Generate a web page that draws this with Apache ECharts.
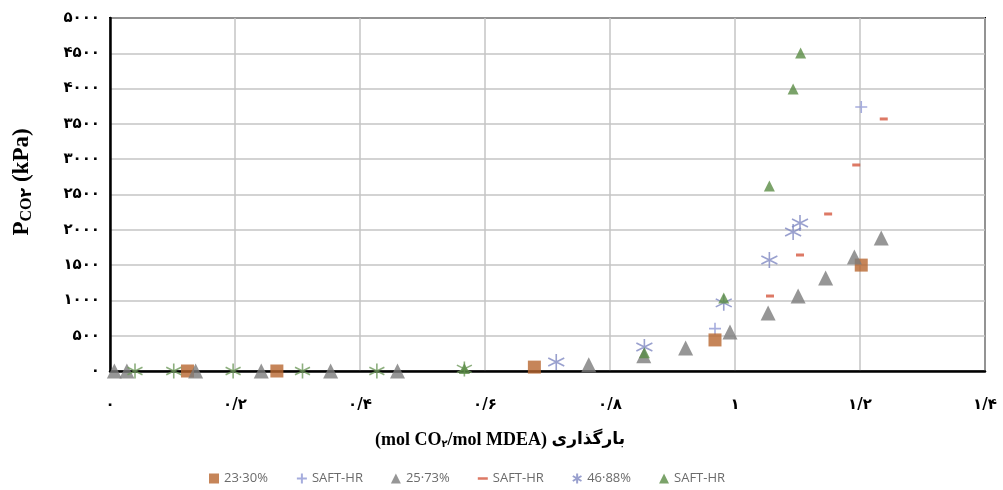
<!DOCTYPE html>
<html>
<head>
<meta charset="utf-8">
<script src="https://cdn.jsdelivr.net/npm/echarts@6/dist/echarts.min.js"></script>
<style>
html,body{margin:0;padding:0;background:#fff;}
#chart{width:1003px;height:490px;}
</style>
</head>
<body>
<div id="chart"></div>
<script>
// ---- data ----
const xTickLabels = ['۰','۰/۲','۰/۴','۰/۶','۰/۸','۱','۱/۲','۱/۴'];
const yTickLabels = ['۰','۵۰۰','۱۰۰۰','۱۵۰۰','۲۰۰۰','۲۵۰۰','۳۰۰۰','۳۵۰۰','۴۰۰۰','۴۵۰۰','۵۰۰۰'];

const legendNames = ['23·30%','SAFT-HR#1','25·73%','SAFT-HR#2','46·88%','SAFT-HR#3'];

const exp2330 = [[0.124,0],[0.267,0],[0.679,55],[0.968,440],[1.202,1500]];
const saft2330 = [[0.968,600],[1.202,3740]];
const exp2573 = [[0.007,0],[0.027,0],[0.137,0],[0.242,0],[0.353,0],[0.46,0],[0.766,90],
                 [0.854,215],[0.921,326],[0.992,552],[1.053,821],[1.101,1062],[1.145,1317],
                 [1.191,1615],[1.234,1884]];
const saft2573 = [[1.056,1062],[1.104,1643],[1.149,2224],[1.194,2918],[1.238,3570]];
const exp4688 = [[0.714,127],[0.855,340],[0.982,965],[1.055,1572],[1.093,1969],[1.104,2096]];
const exp4688Low = [[0.04,0],[0.102,0],[0.197,0],[0.308,0],[0.427,0],[0.567,30]];
const saft4688 = [[0.567,35],[0.855,260],[0.982,1034],[1.055,2621],[1.093,3994],[1.105,4504]];

// ---- styles ----
const cOrange = '#b8672f', cGray = '#7c7c7c', cLav = '#9098d4', cRed = '#d4573f',
      cAst = '#7f88c2', cGreen = '#5a8c45';
const plusPath = 'path://M5,0L5,10M0,5L10,5';
const astPath = 'path://M5,0L5,10M0.67,2.5L9.33,7.5M0.67,7.5L9.33,2.5';
const dashPath = 'path://M0,4L10,4L10,6.5L0,6.5Z';

const chart = echarts.init(document.getElementById('chart'), null, {renderer:'canvas'});
const digitFont = '"DejaVu Sans", sans-serif';

chart.setOption({
  animation: false,
  grid: {left:110, right:18, top:18, bottom:119, show:true, borderColor:'#000', borderWidth:2},
  xAxis: {
    type:'value', min:0, max:1.4, interval:0.2,
    axisLine:{show:true, lineStyle:{color:'#000', width:2.5}},
    axisTick:{show:false},
    splitLine:{show:true, lineStyle:{color:'#c4c4c4', width:1.5}},
    axisLabel:{margin:27, color:'#000', fontWeight:'bold', fontSize:15, fontFamily:digitFont,
      formatter:(v)=>xTickLabels[Math.round(v/0.2)]}
  },
  yAxis: {
    type:'value', min:0, max:5000, interval:500,
    axisLine:{show:true, lineStyle:{color:'#000', width:2.5}},
    axisTick:{show:false},
    splitLine:{show:true, lineStyle:{color:'#c4c4c4', width:1.5}},
    axisLabel:{margin:10, color:'#000', fontWeight:'bold', fontSize:15, fontFamily:digitFont,
      formatter:(v)=>yTickLabels[Math.round(v/500)]}
  },
  graphic: [{
    type:'text', x:500, y:440,
    style:{
      text:'{t|(mol CO}{s|۲}{t|/mol MDEA) }{f|بارگذاری}',
      align:'center', verticalAlign:'middle',
      rich:{
        t:{fontFamily:'"Liberation Serif", serif', fontWeight:'bold', fontSize:18, fill:'#000'},
        s:{fontFamily:'"DejaVu Sans", serif', fontWeight:'bold', fontSize:10, fill:'#000', padding:[8,0,0,0]},
        f:{fontFamily:'"DejaVu Sans", sans-serif', fontWeight:'bold', fontSize:17, fill:'#000'}
      }
    }
  },{
    type:'text', x:22, y:182, rotation:Math.PI/2,
    style:{
      text:'{p|P}{s|CO۲}{p| (kPa)}',
      align:'center', verticalAlign:'middle',
      rich:{
        p:{fontFamily:'"Liberation Serif", serif', fontWeight:'bold', fontSize:23, fill:'#000'},
        s:{fontFamily:'"Liberation Serif","DejaVu Sans", serif', fontWeight:'bold', fontSize:16, fill:'#000', padding:[9,0,0,0]}
      }
    }
  }],
  legend: {
    data: [
      {name:legendNames[0], icon:'rect'},
      {name:legendNames[1], icon:plusPath},
      {name:legendNames[2], icon:'triangle'},
      {name:legendNames[3], icon:dashPath},
      {name:legendNames[4], icon:astPath},
      {name:legendNames[5], icon:'triangle'}
    ],
    left:204, top:467, itemGap:28, itemWidth:10, itemHeight:10,
    textStyle:{color:'#6b6b6b', fontSize:13, fontFamily:'"Open Sans","Liberation Sans",sans-serif'},
    formatter:(n)=>n.replace(/#\d$/,'')
  },
  series: [
    {name:legendNames[1], type:'scatter', data:saft2330, symbol:plusPath, symbolSize:12,
     itemStyle:{color:'rgba(0,0,0,0)', borderColor:cLav, borderWidth:1.6}},
    {name:legendNames[0], type:'scatter', data:exp2330, symbol:'rect', symbolSize:13,
     itemStyle:{color:cOrange}},
    {name:legendNames[2], type:'scatter', data:exp2573, symbol:'triangle', symbolSize:15,
     itemStyle:{color:cGray}},
    {name:legendNames[3], type:'scatter', data:saft2573, symbol:'rect', symbolSize:[8,3],
     itemStyle:{color:cRed}},
    {name:legendNames[4], type:'scatter', data:exp4688, symbol:astPath, symbolSize:16,
     itemStyle:{color:'rgba(0,0,0,0)', borderColor:cAst, borderWidth:1.6}},
    {name:legendNames[4], type:'scatter', data:exp4688Low, symbol:astPath, symbolSize:15,
     itemStyle:{color:'rgba(0,0,0,0)', borderColor:'#6f9a5c', borderWidth:1.6}},
    {name:legendNames[5], type:'scatter', data:saft4688, symbol:'triangle', symbolSize:11,
     itemStyle:{color:cGreen}}
  ]
});
</script>
</body>
</html>
